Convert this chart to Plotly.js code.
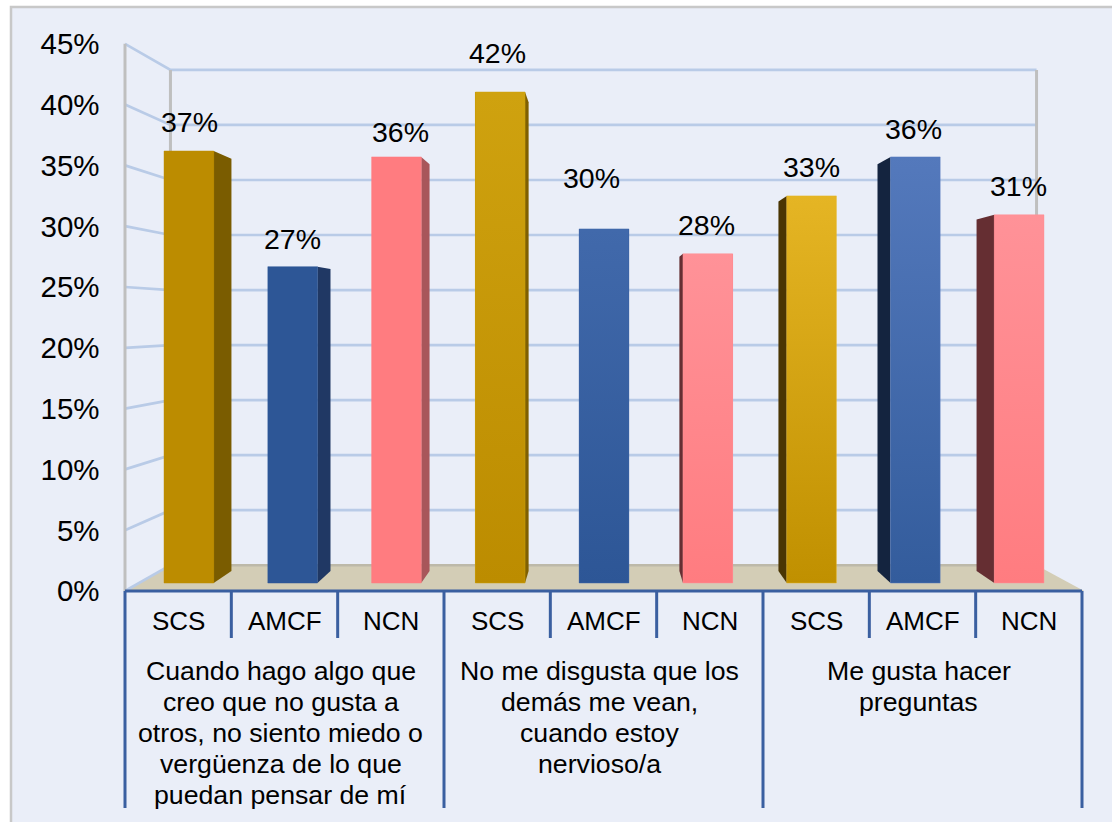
<!DOCTYPE html>
<html><head><meta charset="utf-8">
<script src="https://cdn.plot.ly/plotly-3.0.1.min.js"></script>
<style>html,body{margin:0;padding:0;background:#fff}#chart{width:1112px;height:822px}</style>
</head><body><div id="chart"></div>
<script>
// ---- data ----
const subCategories = ["SCS","AMCF","NCN","SCS","AMCF","NCN","SCS","AMCF","NCN"];
const values = [36.6,26.8,36.1,41.6,30.0,27.9,32.8,36.1,31.2];
const valueLabels = ["37%","27%","36%","42%","30%","28%","33%","36%","31%"];
const groupLines = [
  ["Cuando hago algo que","creo que no gusta a","otros, no siento miedo o","vergüenza de lo que","puedan pensar de mí"],
  ["No me disgusta que los","demás me vean,","cuando estoy","nervioso/a"],
  ["Me gusta hacer","preguntas"]
];
const yTicks = [0,5,10,15,20,25,30,35,40,45];
// ---- styles ----
const topColors  = ["#BC8C00","#2D5696","#FF7C80","#CFA20F","#4169AB","#FF9298","#E5B524","#5479BC","#FF9298"];
const baseColors = ["#BC8C00","#2D5696","#FF7C80","#BC8C00","#2D5696","#FF7C80","#C09000","#335C9C","#FF7C80"];
const sideColors = ["#7A5C00","#203864","#A8565A","#806000","#203864","#652E32","#4A3503","#14243F","#652E32"];
const labelNudge = [29,27.5,25,39,51,29,29,28,29];
const labelShiftX = [1,0,4,-3,-13,-1,0,-2,-1];

// ---- geometry ----
const W=1112,H=822,L=115,R=1092,T=30,B=815,AL=125,AR=1082,ZERO=591,PXU=12.16;
const vy=(ZERO-319)/PXU, cx=4;           // vanishing point, in front-plane data units
const kBack=0.905,kBarX=0.976,kBarY=0.9706,kSide=0.9545;
const pxCat=(AR-AL)/9;
const xl=-0.5,xr=8.5;
const frontXRange=[xl-(AL-L)/pxCat,xr+(R-AR)/pxCat];
const frontYRange=[-(B-ZERO)/PXU,(ZERO-T)/PXU];
const barZeroPx=319+(ZERO-319)*kBarY, barPxU=PXU*kBarY;
const barYRange=[-(B-barZeroPx)/barPxU,(barZeroPx-T)/barPxU];
const barPxCat=pxCat*kBarX;
const barCentre=604;
const barXRange=[cx-(barCentre-L)/barPxCat,cx+(R-barCentre)/barPxCat];
const barVy=(barZeroPx-319)/barPxU;
const barW=0.478;
const backX=x=>cx+kBack*(x-cx), backY=y=>vy+kBack*(y-vy);
const sideX=x=>cx+kSide*(x-cx), sideY=y=>barVy+kSide*(y-barVy);
const pxToY=p=>(ZERO-p)/PXU;

const base={type:"scatter",mode:"lines",hoverinfo:"skip",showlegend:false};
const traces=[];
// floor
traces.push({...base,x:[xl,backX(xl),backX(xr),xr+0.02,xl],y:[0,backY(0),backY(0),0,0],fill:"toself",fillcolor:"#D3CDB6",line:{width:0}});
traces.push({...base,x:[backX(xl),backX(xr)],y:[backY(0),backY(0)],line:{color:"#BDB9A9",width:2.5}});
// gridlines
yTicks.forEach(v=>{
  const xs=[xl,backX(xl)],ys=[v,backY(v)];
  if(v>0){xs.push(backX(xr));ys.push(backY(v));}
  traces.push({...base,x:xs,y:ys,line:{color:"#B9CBE7",width:2.7}});
});
// walls
traces.push({...base,x:[xl,xl,null,backX(xl),backX(xl),null,backX(xr),backX(xr)],
  y:[0,45,null,backY(0),backY(45),null,backY(0),backY(45)],line:{color:"#BFBFBF",width:3}});
// category axis dividers
const dvx=[],dvy=[];
for(let i=0;i<=9;i++){dvx.push(xl+i,xl+i,null);dvy.push(0,i%3===0?pxToY(808):pxToY(638),null);}
traces.push({...base,x:dvx,y:dvy,line:{color:"#3A5FA0",width:3}});
traces.push({...base,x:[xl,xr],y:[0,0],line:{color:"#3A5FA0",width:3}});

// bars
traces.push({type:"bar",x:values.map((_,i)=>i),y:values,width:barW,xaxis:"x2",yaxis:"y2",
  marker:{color:baseColors,line:{width:0}},hovertemplate:"%{y}%<extra></extra>",showlegend:false});
// side faces and gradient overlays, derived from the values
values.forEach((v,i)=>{
  if(i!==4){
    const xe=i<4?i+barW/2:i-barW/2;
    traces.push({...base,xaxis:"x2",yaxis:"y2",x:[xe,sideX(xe),sideX(xe),xe,xe],y:[0,sideY(0),sideY(v),v,0],
      fill:"toself",fillcolor:sideColors[i],line:{width:0}});
  }
  traces.push({...base,xaxis:"x2",yaxis:"y2",
    x:[i-barW/2,i+barW/2,i+barW/2,i-barW/2,i-barW/2],y:[0,0,v,v,0],fill:"toself",
    fillgradient:{type:"vertical",colorscale:[[0,baseColors[i]],[1,topColors[i]]]},
    line:{color:topColors[i],width:0.5}});
});

// annotations
const ann=[];
const font=s=>({family:"Liberation Sans, Arial, sans-serif",size:s,color:"#000"});
values.forEach((v,i)=>ann.push({xref:"x2",yref:"y2",x:i,y:v,text:valueLabels[i],showarrow:false,
  xanchor:"center",yanchor:"middle",yshift:labelNudge[i],xshift:labelShiftX[i],font:font(28.5)}));
subCategories.forEach((c,i)=>ann.push({xref:"x",yref:"y",x:i,y:pxToY(621),text:c,showarrow:false,
  xanchor:"center",yanchor:"middle",font:font(26)}));
groupLines.forEach((lines,g)=>lines.forEach((t,j)=>ann.push({xref:"x",yref:"y",x:3*g+1,xshift:-4,y:pxToY(671+31*j),
  text:t,showarrow:false,xanchor:"center",yanchor:"middle",font:font(26.7)})));

const layout={
  width:W,height:H,paper_bgcolor:"#fff",plot_bgcolor:"rgba(0,0,0,0)",
  margin:{l:L,r:W-R,t:T,b:H-B,pad:0},showlegend:false,bargap:0,
  xaxis:{range:frontXRange,visible:false,fixedrange:true},
  yaxis:{range:frontYRange,tickvals:yTicks,ticktext:yTicks.map(v=>v+"%"),ticks:"outside",ticklen:8.5,tickcolor:"rgba(0,0,0,0)",
    showgrid:false,zeroline:false,showline:false,fixedrange:true,tickfont:font(29.5)},
  xaxis2:{range:barXRange,overlaying:"x",visible:false,fixedrange:true},
  yaxis2:{range:barYRange,overlaying:"y",visible:false,fixedrange:true},
  shapes:[{type:"rect",layer:"below",xref:"paper",yref:"paper",
    x0:(11-L)/(R-L),x1:(W+5-L)/(R-L),y0:(B-H-5)/(B-T),y1:(B-7)/(B-T),
    fillcolor:"#EAEEF8",line:{color:"#C8C8C8",width:2.5}}],
  annotations:ann
};
Plotly.newPlot("chart",traces,layout,{displayModeBar:false,staticPlot:true});
</script></body></html>
